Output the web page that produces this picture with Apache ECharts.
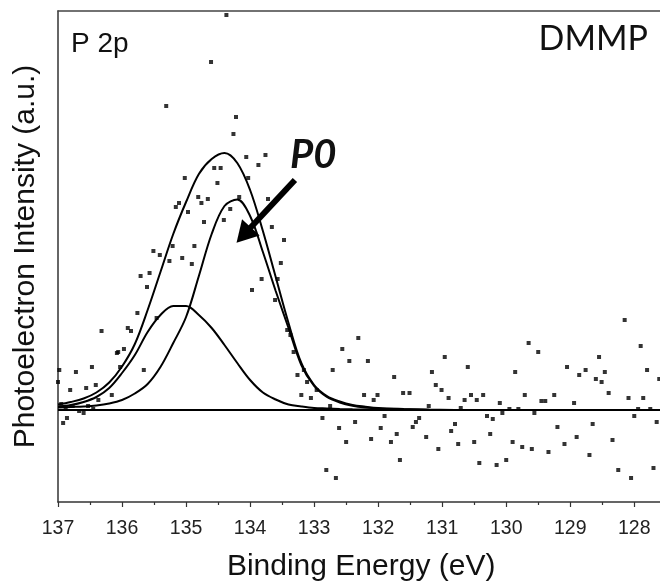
<!DOCTYPE html>
<html><head><meta charset="utf-8">
<script src="https://cdn.jsdelivr.net/npm/echarts@6/dist/echarts.min.js"></script>
<style>html,body{margin:0;padding:0;background:#fff}#c{width:660px;height:581px}</style>
</head><body><div id="c"></div>
<script>
// Measured P 2p data points (binding energy in eV, intensity in arbitrary units)
const measuredEnergy = [137.00,136.98,136.95,136.92,136.88,136.86,136.81,136.77,136.72,136.67,136.60,136.56,136.53,136.47,136.45,136.41,136.37,136.32,136.16,136.08,136.06,136.03,135.97,135.91,135.86,135.76,135.71,135.66,135.61,135.57,135.51,135.46,135.41,135.31,135.26,135.21,135.16,135.11,135.06,135.02,134.97,134.91,134.87,134.81,134.76,134.72,134.66,134.61,134.56,134.51,134.46,134.41,134.37,134.31,134.26,134.22,134.17,134.06,134.03,133.97,133.87,133.82,133.76,133.72,133.66,133.61,133.57,133.52,133.47,133.42,133.37,133.32,133.26,133.20,133.16,133.11,133.05,132.96,132.87,132.81,132.75,132.71,132.66,132.61,132.56,132.50,132.45,132.36,132.31,132.22,132.16,132.11,132.07,132.01,131.96,131.90,131.80,131.75,131.71,131.66,131.61,131.51,131.46,131.41,131.36,131.25,131.21,131.16,131.10,131.06,131.01,130.96,130.90,130.86,130.80,130.75,130.71,130.65,130.60,130.55,130.50,130.46,130.42,130.36,130.30,130.25,130.21,130.15,130.10,130.06,130.00,129.95,129.90,129.86,129.81,129.75,129.71,129.65,129.60,129.56,129.50,129.45,129.39,129.34,129.25,129.20,129.09,129.05,128.94,128.90,128.86,128.76,128.70,128.65,128.60,128.55,128.51,128.46,128.40,128.34,128.25,128.15,128.09,128.05,128.00,127.94,127.90,127.86,127.80,127.75,127.70,127.65,127.61];
const measuredIntensity = [28,40,6,-13,3,-8,20,4,38,-1,-3,22,4,43,1,25,10,79,15,57,58,43,61,82,79,97,134,40,123,137,159,92,155,304,149,164,203,207,152,232,198,146,164,213,207,188,211,348,242,227,242,190,395,201,276,293,213,253,232,120,245,131,255,211,183,110,131,147,170,80,75,58,35,15,40,28,12,20,-8,-60,4,40,-68,-18,61,-32,49,-12,72,15,49,-29,10,15,-18,-6,-32,33,-24,-50,17,17,-17,-12,-8,-27,4,38,25,-39,20,53,12,-21,-14,-34,2,10,43,15,-32,10,-53,15,-6,-24,-9,-55,7,-3,-50,1,-32,38,1,-37,15,67,-39,-3,58,9,9,-42,15,-17,-34,43,7,-27,35,40,-45,-14,31,53,28,38,17,-30,-60,90,12,-68,-6,1,64,12,40,1,-58,-12,31];

// Fitted curves
const fitEnergy = [137.0,136.8,136.6,136.4,136.2,136.0,135.8,135.6,135.4,135.2,135.0,134.8,134.6,134.4,134.2,134.0,133.8,133.6,133.4,133.2,133.0,132.8,132.6,132.4,132.2,132.0,131.6,131.2,130.8];
const envelopeFit = [5.5,8,11.5,17.5,27.5,43.5,66,100,138,176,208,236,251,257,247,220,179,133,87,47,25,14,8.5,5,3.3,2,1,0.3,0];
const p0Main = [2.5,3,3.5,4.5,6.5,10,16.5,26,43,67,93,134,176,204,210.5,194,158,119,82,45,24,13,7.5,4.2,2.4,1.5,0.7,0.2,0];
const p0Doublet = [3.5,5,8,13,22,37,55,78,95,104,104,95,82,65,47,30,17.5,10.5,5.5,3.5,2,1.5,1,0.7,0.5,0.3,0.2,0.1,0];
const baselineEnergy = [137, 127];
const baselineValue = [0, 0];

// Axis settings
const xMin = 127, xMax = 137, xStep = 1;
const yMin = -92, yMax = 399;

// Annotation arrow (data coordinates)
const arrowFrom = [133.30, 230];
const arrowTo = [134.10, 175];

const zip = (a, b) => a.map((v, i) => [v, b[i]]);
const FONT = 'Liberation Sans, Arial, sans-serif';
const lineStyle = { color: '#000', width: 2 };

const chart = echarts.init(document.getElementById('c'), null, { renderer: 'canvas' });
chart.setOption({
  animation: false,
  backgroundColor: '#fff',
  grid: { left: 58, top: 11, width: 640.3, height: 491, containLabel: false, outerBoundsMode: 'none' },
  xAxis: [{
    type: 'value', min: xMin, max: xMax, interval: xStep, inverse: true, position: 'bottom',
    axisLine: { show: true, onZero: false, lineStyle: { color: '#333', width: 1.5 } },
    axisTick: { show: true, length: 5, lineStyle: { color: '#333', width: 1.2 } },
    minorTick: { show: true, splitNumber: 2, length: 3, lineStyle: { color: '#333', width: 1.2 } },
    axisLabel: { fontSize: 19.5, color: '#222', margin: 17, fontFamily: FONT },
    splitLine: { show: false },
    name: 'Binding Energy (eV)', nameLocation: 'middle', nameGap: 50,
    nameTextStyle: { fontSize: 30, color: '#111', fontFamily: FONT, padding: [0, 34, 0, 0] }
  }, {
    type: 'value', min: xMin, max: xMax, inverse: true, position: 'top',
    axisLine: { show: true, onZero: false, lineStyle: { color: '#444', width: 1.5 } },
    axisTick: { show: false }, axisLabel: { show: false }, splitLine: { show: false }
  }],
  yAxis: {
    type: 'value', min: yMin, max: yMax,
    axisLine: { show: true, onZero: false, lineStyle: { color: '#333', width: 1.5 } },
    axisTick: { show: false }, axisLabel: { show: false }, splitLine: { show: false },
    name: 'Photoelectron Intensity (a.u.)', nameLocation: 'middle', nameGap: 17,
    nameTextStyle: { fontSize: 30, color: '#111', fontFamily: FONT }
  },
  series: [
    {
      name: 'data', type: 'scatter', data: zip(measuredEnergy, measuredIntensity),
      symbol: 'rect', symbolSize: 4, itemStyle: { color: '#000' }, z: 3
    },
    {
      name: 'envelope', type: 'line', data: zip(fitEnergy, envelopeFit),
      showSymbol: false, smooth: 0.35, lineStyle: lineStyle, z: 4
    },
    {
      name: 'P0 2p3/2', type: 'line', data: zip(fitEnergy, p0Main),
      showSymbol: false, smooth: 0.35, lineStyle: lineStyle, z: 4
    },
    {
      name: 'P0 2p1/2', type: 'line', data: zip(fitEnergy, p0Doublet),
      showSymbol: false, smooth: 0.35, lineStyle: lineStyle, z: 4
    },
    {
      name: 'baseline', type: 'line', data: zip(baselineEnergy, baselineValue),
      showSymbol: false, lineStyle: { color: '#000', width: 2 }, z: 4,
      markLine: {
        silent: true, animation: false,
        symbol: ['none', 'triangle'], symbolSize: [24, 21],
        label: { show: false },
        lineStyle: { color: '#000', width: 6, type: 'solid' },
        data: [[{ coord: arrowFrom }, { coord: arrowTo }]]
      }
    }
  ],
  graphic: [
    { type: 'text', left: 71, top: 30, style: { text: 'P 2p', font: '28px ' + FONT, fill: '#111' } },
    { type: 'text', right: 12, top: 22, style: { text: 'DMMP', font: '34px Lato, sans-serif', fill: '#111' } },
    { type: 'text', left: 290, top: 135, style: { text: 'P0', font: 'italic bold 40px Lato, sans-serif', fill: '#111' } }
  ]
});
</script></body></html>
